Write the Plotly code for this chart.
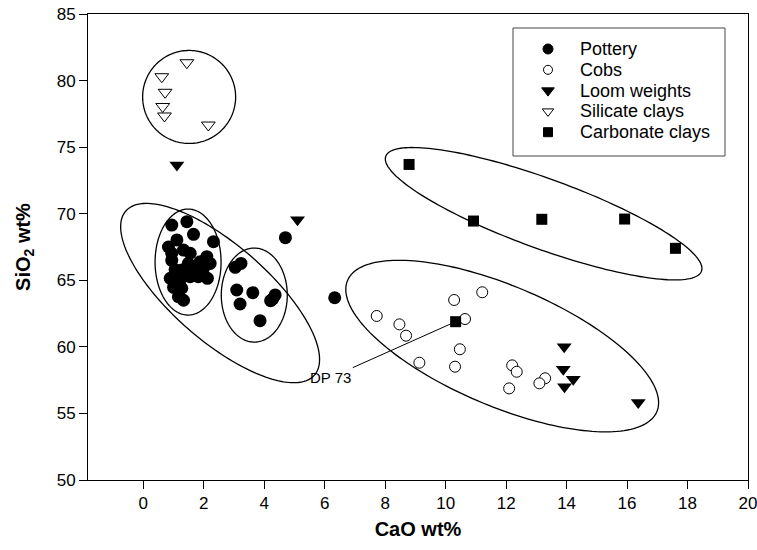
import numpy as np
import plotly.graph_objects as go

# ---- measured compositions (wt%) ----
pottery_cao = [0.94, 1.44, 1.66, 2.32, 0.83, 1.11, 0.94, 1.33, 1.55, 2.10, 2.21,
               1.05, 1.49, 1.88, 1.27, 1.71, 1.99, 0.89, 1.22, 1.55, 1.82, 2.12,
               1.00, 1.27, 1.16, 1.33, 1.77, 1.55, 0.94, 1.22,
               3.04, 3.23, 3.09, 3.62, 3.20, 4.21, 4.36, 4.28, 3.86,
               4.70, 6.33]
pottery_sio2 = [69.15, 69.40, 68.45, 67.90, 67.50, 68.03, 67.03, 67.27, 67.03, 66.77, 66.27,
                65.80, 66.28, 66.40, 65.77, 65.77, 65.90, 65.15, 65.02, 65.27, 65.27, 65.15,
                64.47, 64.40, 63.77, 63.50, 65.52, 66.02, 66.50, 64.50,
                65.97, 66.27, 64.27, 64.07, 63.22, 63.47, 63.90, 63.60, 61.97,
                68.20, 63.69]

cobs_cao = [7.72, 8.47, 8.69, 10.28, 11.21, 10.64, 10.47, 9.13, 10.31, 12.20, 12.35,
            12.10, 13.29, 13.10]
cobs_sio2 = [62.32, 61.69, 60.84, 63.52, 64.10, 62.09, 59.82, 58.81, 58.51, 58.61, 58.13,
             56.88, 57.64, 57.26]

loom_cao = [1.11, 5.10, 13.92, 13.89, 14.22, 13.93, 16.37]
loom_sio2 = [73.66, 69.55, 60.01, 58.31, 57.56, 57.01, 55.83]

silicate_cao = [1.44, 0.61, 0.72, 0.64, 0.70, 2.15]
silicate_sio2 = [81.34, 80.29, 79.12, 78.05, 77.34, 76.66]

carbonate_cao = [8.79, 10.92, 13.18, 15.92, 17.60, 10.33]
carbonate_sio2 = [73.70, 69.45, 69.58, 69.60, 67.40, 61.89]

series_names = ["Pottery", "Cobs", "Loom weights", "Silicate clays", "Carbonate clays"]

x_ticks = list(range(0, 21, 2))
y_ticks = list(range(50, 86, 5))

# ---- frame geometry ----
W, H = 757, 550
M_L, M_R, M_T, M_B = 88, 9, 14, 70
PLOT_W, PLOT_H = W - M_L - M_R, H - M_T - M_B
X_RANGE = [-1.83, 20.0001]
Y_RANGE = [50, 85]
px_x = PLOT_W / (X_RANGE[1] - X_RANGE[0])
px_y = PLOT_H / (Y_RANGE[1] - Y_RANGE[0])

# group outlines: centre (data), semi-axes (screen px), tilt (deg, clockwise on screen)
groups = [
    (1.515, 78.77, 46.5, 46.5, 0),
    (2.54, 64.04, 125, 48, 41),
    (1.48, 66.37, 33, 53, 0),
    (3.67, 63.89, 33, 47, 0),
    (11.87, 60.06, 168, 60, 23),
    (13.24, 70.00, 168, 35, 20),
]


def ellipse_path(cx, cy, a, b, ang, n=180):
    t = np.linspace(0, 2 * np.pi, n)
    th = np.radians(ang)
    dx = a * np.cos(t) * np.cos(th) - b * np.sin(t) * np.sin(th)
    dy = a * np.cos(t) * np.sin(th) + b * np.sin(t) * np.cos(th)
    xs = cx + dx / px_x
    ys = cy - dy / px_y
    pts = [f"{x:.4f},{y:.4f}" for x, y in zip(xs, ys)]
    return "M " + " L ".join(pts) + " Z"


def paper_x(px):
    return (px - M_L) / PLOT_W


def paper_y(py):
    return (H - M_B - py) / PLOT_H


def data_x(px):
    return X_RANGE[0] + (px - M_L) / px_x


def data_y(py):
    return Y_RANGE[1] - (py - M_T) / px_y


FONT = "Liberation Sans, Arial, sans-serif"

styles = [
    dict(symbol="circle", size=13, color="black", line=dict(width=0)),
    dict(symbol="circle", size=11, color="white", line=dict(width=1, color="black")),
    dict(symbol="triangle-down", size=13, color="black", line=dict(width=0)),
    dict(symbol="triangle-down", size=12, color="white", line=dict(width=1, color="black")),
    dict(symbol="square", size=11, color="black", line=dict(width=0)),
]
series = [
    (pottery_cao, pottery_sio2),
    (cobs_cao, cobs_sio2),
    (loom_cao, loom_sio2),
    (silicate_cao, silicate_sio2),
    (carbonate_cao, carbonate_sio2),
]

fig = go.Figure()

for cx, cy, a, b, ang in groups:
    fig.add_shape(type="path", path=ellipse_path(cx, cy, a, b, ang), xref="x", yref="y",
                  line=dict(color="black", width=1.3), fillcolor="rgba(0,0,0,0)", layer="below")

for name, (xs, ys), st in zip(series_names, series, styles):
    fig.add_trace(go.Scatter(x=xs, y=ys, mode="markers", name=name, marker=st,
                             opacity=1, showlegend=False))

# sample label
fig.add_annotation(x=carbonate_cao[-1], y=carbonate_sio2[-1], ax=6.2, ay=57.7,
                   axref="x", ayref="y", xref="x", yref="y", text="DP 73",
                   showarrow=True, arrowhead=0, arrowwidth=1, arrowcolor="black",
                   standoff=5, font=dict(family=FONT, size=15, color="black"))

# ---- key box ----
KEY_BOX = (513, 28, 725, 156)
KEY_GLYPH_X, KEY_TEXT_X, KEY_ROW0, KEY_ROW_STEP = 548, 578, 49, 20.8
key_sizes = [10, 9, 11, 10, 9]
fig.add_shape(type="rect", xref="paper", yref="paper",
              x0=paper_x(KEY_BOX[0]), x1=paper_x(KEY_BOX[2]),
              y0=paper_y(KEY_BOX[3]), y1=paper_y(KEY_BOX[1]),
              line=dict(color="#444", width=1), fillcolor="white", layer="below")
rows_px = [KEY_ROW0 + i * KEY_ROW_STEP for i in range(len(series_names))]
for name, st, sz, ry in zip(series_names, styles, key_sizes, rows_px):
    fig.add_trace(go.Scatter(
        x=[data_x(KEY_GLYPH_X)], y=[data_y(ry)], mode="markers", name=name,
        showlegend=False, hoverinfo="skip", opacity=1,
        marker=dict(symbol=st["symbol"], size=sz, color=st["color"],
                    line=dict(width=1, color="black"))))
    fig.add_annotation(x=paper_x(KEY_TEXT_X), y=paper_y(ry), xref="paper", yref="paper",
                       text=name, showarrow=False, xanchor="left", yanchor="middle",
                       font=dict(family=FONT, size=18, color="black"))

axis_common = dict(showline=True, linecolor="black", linewidth=1, mirror=True,
                   ticks="outside", ticklen=8, tickwidth=1, tickcolor="black",
                   showgrid=False, zeroline=False, ticklabeloverflow="allow",
                   tickfont=dict(family=FONT, size=17, color="black"))

fig.update_xaxes(range=X_RANGE, tickvals=x_ticks, **axis_common,
                 title=dict(text="<b>CaO wt%</b>", font=dict(family=FONT, size=20, color="black"),
                            standoff=9))
fig.update_yaxes(range=Y_RANGE, tickvals=y_ticks, **axis_common,
                 title=dict(text="<b>SiO<sub>2</sub> wt%</b>",
                            font=dict(family=FONT, size=20, color="black"), standoff=20))

fig.update_layout(
    width=W, height=H,
    margin=dict(l=M_L, r=M_R, t=M_T, b=M_B, autoexpand=False),
    plot_bgcolor="white", paper_bgcolor="white",
    showlegend=False,
)

fig.write_html("out.html")
